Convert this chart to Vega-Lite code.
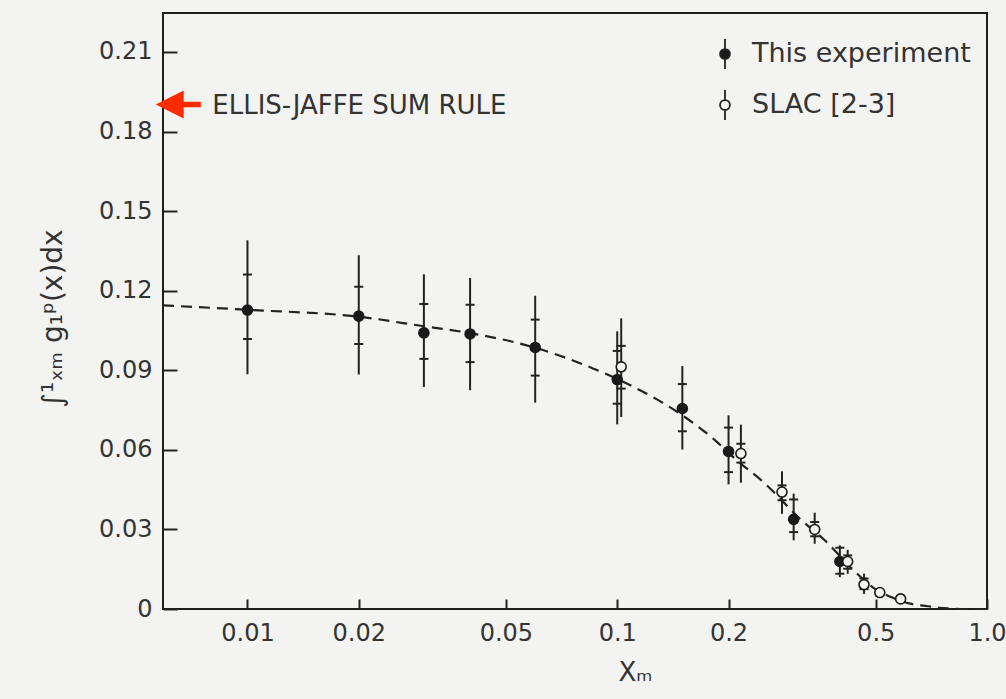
{
  "$schema": "https://vega.github.io/schema/vega-lite/v6.json",
  "width": 824,
  "height": 596,
  "autosize": {"type": "none"},
  "padding": {"left": 163, "top": 13, "right": 19, "bottom": 90},
  "background": "#f3f3f1",
  "config": {
    "view": {"stroke": "#1e1e1e", "strokeWidth": 2},
    "font": "DejaVu Sans",
    "axis": {
      "domain": false,
      "grid": false,
      "labelColor": "#333333",
      "titleColor": "#333333",
      "tickColor": "#222222",
      "tickWidth": 2,
      "labelFont": "DejaVu Sans",
      "titleFont": "DejaVu Sans",
      "labelFontSize": 24,
      "titleFontWeight": "normal"
    }
  },
  "datasets": {
    "pts": [
      {"series": "This experiment", "x": 0.01, "y": 0.1127, "lo": 0.0885, "hi": 0.139, "slo": 0.1018, "shi": 0.1261},
      {"series": "This experiment", "x": 0.02, "y": 0.1104, "lo": 0.0884, "hi": 0.1334, "slo": 0.0999, "shi": 0.1215},
      {"series": "This experiment", "x": 0.03, "y": 0.1041, "lo": 0.0837, "hi": 0.1262, "slo": 0.0943, "shi": 0.115},
      {"series": "This experiment", "x": 0.04, "y": 0.1037, "lo": 0.0825, "hi": 0.1248, "slo": 0.0931, "shi": 0.1147},
      {"series": "This experiment", "x": 0.06, "y": 0.0986, "lo": 0.0778, "hi": 0.1181, "slo": 0.088, "shi": 0.1091},
      {"series": "This experiment", "x": 0.1, "y": 0.0865, "lo": 0.0696, "hi": 0.1047, "slo": 0.0774, "shi": 0.0973},
      {"series": "This experiment", "x": 0.15, "y": 0.0756, "lo": 0.0601, "hi": 0.0916, "slo": 0.067, "shi": 0.0848},
      {"series": "This experiment", "x": 0.2, "y": 0.0594, "lo": 0.047, "hi": 0.073, "slo": 0.0516, "shi": 0.0684},
      {"series": "This experiment", "x": 0.3, "y": 0.0338, "lo": 0.0259, "hi": 0.0435, "slo": 0.029, "shi": 0.0413},
      {"series": "This experiment", "x": 0.4, "y": 0.0179, "lo": 0.012, "hi": 0.024, "slo": 0.0133, "shi": 0.0231},
      {"series": "SLAC [2-3]", "x": 0.1025, "y": 0.0913, "lo": 0.0724, "hi": 0.1096, "slo": 0.0831, "shi": 0.0992},
      {"series": "SLAC [2-3]", "x": 0.216, "y": 0.0586, "lo": 0.0476, "hi": 0.0695, "slo": 0.0552, "shi": 0.0623},
      {"series": "SLAC [2-3]", "x": 0.279, "y": 0.0441, "lo": 0.0359, "hi": 0.0519, "slo": 0.041, "shi": 0.0466},
      {"series": "SLAC [2-3]", "x": 0.342, "y": 0.03, "lo": 0.0246, "hi": 0.0363, "slo": 0.0274, "shi": 0.0328},
      {"series": "SLAC [2-3]", "x": 0.42, "y": 0.0179, "lo": 0.0133, "hi": 0.0223, "slo": 0.0152, "shi": 0.0202},
      {"series": "SLAC [2-3]", "x": 0.465, "y": 0.0092, "lo": 0.0057, "hi": 0.0133, "slo": 0.0075, "shi": 0.0115},
      {"series": "SLAC [2-3]", "x": 0.513, "y": 0.0062, "lo": null, "hi": null, "slo": null, "shi": null},
      {"series": "SLAC [2-3]", "x": 0.584, "y": 0.0038, "lo": null, "hi": null, "slo": null, "shi": null}
    ],
    "curve": [
      {"x": 0.00591, "y": 0.1145},
      {"x": 0.01, "y": 0.1128},
      {"x": 0.02, "y": 0.1102},
      {"x": 0.03, "y": 0.1066},
      {"x": 0.04, "y": 0.104},
      {"x": 0.06, "y": 0.0985},
      {"x": 0.086, "y": 0.0907},
      {"x": 0.1075, "y": 0.0846},
      {"x": 0.127, "y": 0.0793},
      {"x": 0.153, "y": 0.0722},
      {"x": 0.184, "y": 0.0636},
      {"x": 0.208, "y": 0.0567},
      {"x": 0.25, "y": 0.0475},
      {"x": 0.3155, "y": 0.0334},
      {"x": 0.364, "y": 0.0259},
      {"x": 0.4365, "y": 0.0145},
      {"x": 0.4976, "y": 0.0076},
      {"x": 0.55, "y": 0.0045},
      {"x": 0.62, "y": 0.002},
      {"x": 0.68, "y": 0.0012},
      {"x": 0.77, "y": 0.0003},
      {"x": 0.85, "y": 0},
      {"x": 1.0, "y": 0}
    ],
    "ann": [
      {"label": "ELLIS-JAFFE SUM RULE", "x": 0.0065, "y": 0.1902}
    ]
  },
  "layer": [
    {
      "data": {"name": "curve"},
      "mark": {"type": "line", "strokeDash": [11, 7], "strokeWidth": 2.2, "color": "#222222", "interpolate": "monotone"},
      "encoding": {
        "x": {
          "field": "x", "type": "quantitative", "title": "Xₘ",
          "scale": {"type": "log", "domain": [0.00591, 1.0], "nice": false},
          "axis": {
            "values": [0.01, 0.02, 0.05, 0.1, 0.2, 0.5, 1],
            "labelExpr": "datum.value >= 1 ? '1.0' : format(datum.value, '~g')",
            "tickSize": -10,
            "labelPadding": 22,
            "labelFlush": false,
            "titleFontSize": 26,
            "titleX": 472,
            "titleY": 71,
            "titleBaseline": "alphabetic",
            "titleAlign": "center"
          }
        },
        "y": {
          "field": "y", "type": "quantitative", "title": "∫¹ₓₘ g₁ᵖ(x)dx",
          "scale": {"domain": [0, 0.2247], "nice": false},
          "axis": {
            "values": [0, 0.03, 0.06, 0.09, 0.12, 0.15, 0.18, 0.21],
            "format": ".2~f",
            "tickSize": -14,
            "labelPadding": 25,
            "titleFontSize": 28,
            "titleAngle": -90,
            "titleX": -102,
            "titleY": 305,
            "titleBaseline": "alphabetic",
            "titleAlign": "center"
          }
        }
      }
    },
    {
      "data": {"name": "pts"},
      "transform": [{"filter": "isValid(datum.lo)"}],
      "mark": {"type": "rule", "strokeWidth": 2, "color": "#222222"},
      "encoding": {
        "x": {"field": "x", "type": "quantitative", "title": "Xₘ"},
        "y": {"field": "lo", "type": "quantitative", "title": "∫¹ₓₘ g₁ᵖ(x)dx"},
        "y2": {"field": "hi"}
      }
    },
    {
      "data": {"name": "pts"},
      "transform": [
        {"fold": ["slo", "shi"], "as": ["k", "v"]},
        {"filter": "isValid(datum.v)"}
      ],
      "mark": {"type": "tick", "orient": "horizontal", "size": 9, "thickness": 2, "color": "#222222", "opacity": 1},
      "encoding": {
        "x": {"field": "x", "type": "quantitative", "title": "Xₘ"},
        "y": {"field": "v", "type": "quantitative", "title": "∫¹ₓₘ g₁ᵖ(x)dx"}
      }
    },
    {
      "data": {"name": "pts"},
      "mark": {"type": "point", "shape": "circle", "filled": true, "opacity": 1, "strokeWidth": 1.6, "size": 100},
      "encoding": {
        "x": {"field": "x", "type": "quantitative", "title": "Xₘ"},
        "y": {"field": "y", "type": "quantitative", "title": "∫¹ₓₘ g₁ᵖ(x)dx"},
        "fill": {
          "field": "series", "type": "nominal",
          "scale": {"domain": ["This experiment", "SLAC [2-3]"], "range": ["#1a1a1a", "#f3f3f1"]},
          "legend": {
            "title": null,
            "orient": "none",
            "legendX": 546,
            "legendY": 25,
            "padding": 0,
            "symbolType": "M0,-1V-0.33M0,0.33V1M0.33,0A0.33,0.33,0,1,1,-0.33,0A0.33,0.33,0,1,1,0.33,0Z",
            "symbolSize": 900,
            "symbolStrokeColor": "#222222",
            "symbolStrokeWidth": 1.8,
            "labelFont": "DejaVu Sans",
            "labelFontSize": 27,
            "labelColor": "#333333",
            "labelOffset": 11,
            "rowPadding": 13,
            "labelLimit": 400
          }
        },
        "stroke": {"value": "#1a1a1a"}
      }
    },
    {
      "data": {"name": "ann"},
      "mark": {"type": "point", "shape": "M-1,0L0.24,-0.62V-0.12H1V0.12H0.24V0.62Z", "filled": true, "opacity": 1, "color": "#ff2a00", "size": 2025, "strokeWidth": 0},
      "encoding": {
        "x": {"field": "x", "type": "quantitative", "title": "Xₘ"},
        "y": {"field": "y", "type": "quantitative", "title": "∫¹ₓₘ g₁ᵖ(x)dx"}
      }
    },
    {
      "data": {"name": "ann"},
      "mark": {"type": "text", "align": "left", "baseline": "middle", "dx": 34, "dy": 1, "font": "DejaVu Sans", "fontSize": 26, "color": "#333333"},
      "encoding": {
        "x": {"field": "x", "type": "quantitative", "title": "Xₘ"},
        "y": {"field": "y", "type": "quantitative", "title": "∫¹ₓₘ g₁ᵖ(x)dx"},
        "text": {"field": "label"}
      }
    }
  ]
}
